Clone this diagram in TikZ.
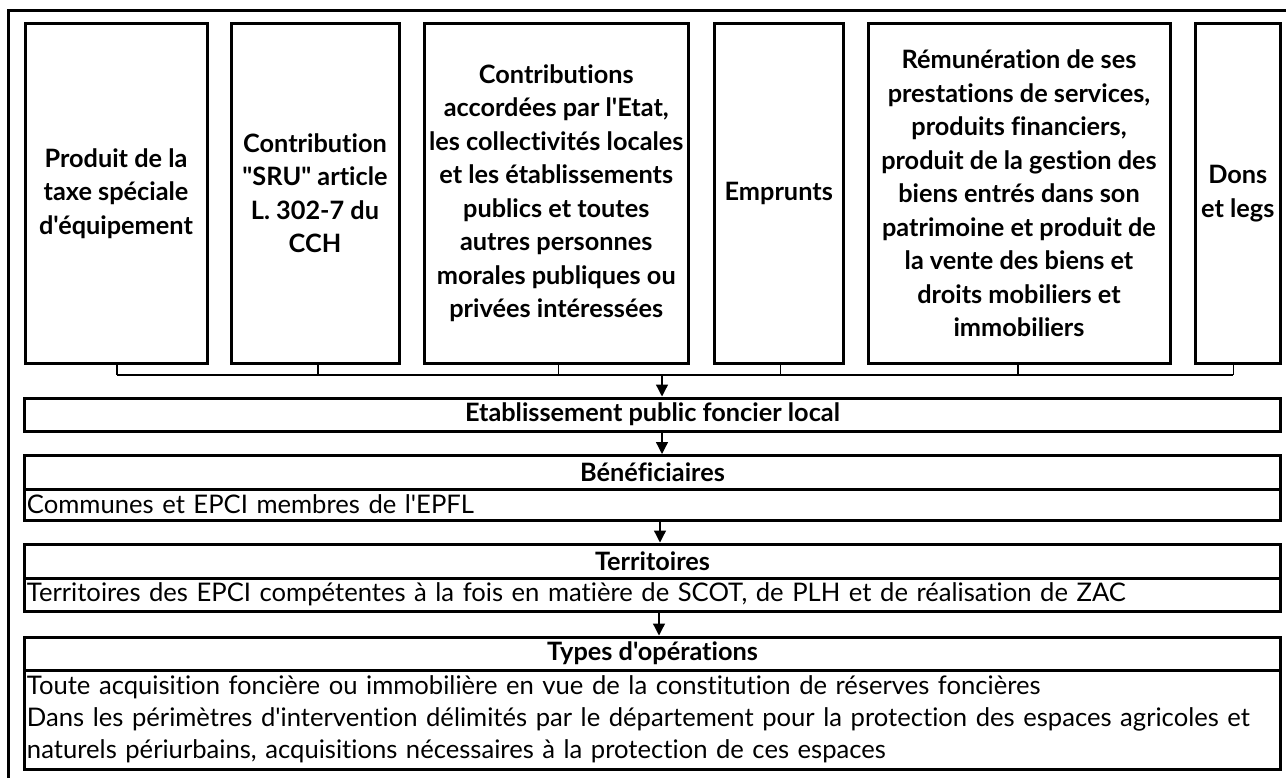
\documentclass[tikz,border=0pt]{standalone}
\usepackage{fontspec}
\setmainfont{Lato}[Ligatures={TeXOff,CommonOff}]
\usetikzlibrary{arrows.meta}
\newsavebox\measbox
\newdimen\accw
\newcommand\addw[2]{\sbox\measbox{\normalfont\fontsize{10}{12}\selectfont#1#2}\global\advance\accw by \wd\measbox}
\AtBeginDocument{%
  \global\accw=0pt
  \addw{\bfseries}{les collectivités locales}%
  \addw{\bfseries}{produit de la gestion des}%
  \addw{\bfseries}{accordées par l'Etat,}%
  \addw{\bfseries}{Rémunération de ses}%
  \addw{\bfseries}{d'équipement}%
  \addw{\bfseries}{Contribution}%
  \addw{\bfseries}{Emprunts}%
  \pgfmathsetmacro\topfsA{1395/\accw*10}%
  \global\let\topfs\topfsA
  \global\accw=0pt
  \addw{}{Toute acquisition foncière ou immobilière en vue de la constitution de réserves foncières}%
  \addw{}{Territoires des EPCI compétentes à la fois en matière de SCOT, de PLH et de réalisation de ZAC}%
  \addw{}{Dans les périmètres d'intervention délimités par le département pour la protection des espaces agricoles et}%
  \pgfmathsetmacro\bodyfsA{3250/\accw*10}%
  \global\let\bodyfs\bodyfsA
}
\begin{document}
\begin{tikzpicture}[x=1pt,y=-1pt]
\tikzset{
  frame/.style={line width=3pt},
  topbox/.style={draw, line width=3pt, align=center, font=\fontsize{\topfs}{33.5}\selectfont\bfseries, inner sep=0pt, minimum height=340.5},
  hdr/.style={draw, line width=3pt, minimum width=1256, align=center, font=\fontsize{\topfs}{33}\selectfont\bfseries, inner sep=0pt},
  body/.style={draw, line width=3pt, text width=1251, align=left, font=\fontsize{\bodyfs}{32}\selectfont, inner xsep=2.5pt, inner ysep=0pt},
  bus/.style={line width=1.3pt},
  arr/.style={line width=1.3pt, -{Triangle[length=12pt,width=12pt]}}}
\useasboundingbox (0,0) rectangle (1286,778);
\clip (0,0) rectangle (1286,778);
\draw[frame] (8.5,10.5) rectangle (1300,790);

% top boxes
\node[topbox, minimum width=182] (b1) at (116,193.4) {Produit de la\\taxe spéciale\\d'équipement};
\node[topbox, minimum width=168] (b2) at (315,193.4) {Contribution\\"SRU" article\\L. 302-7 du\\CCH};
\node[topbox, minimum width=263.5] (b3) at (556.25,193.4) {Contributions\\accordées par l'Etat,\\les collectivités locales\\et les établissements\\publics et toutes\\autres personnes\\morales publiques ou\\privées intéressées};
\node[topbox, minimum width=128.5] (b4) at (778.75,193.4) {Emprunts};
\node[topbox, minimum width=302] (b5) at (1019,193.4) {Rémunération de ses\\prestations de services,\\produits financiers,\\produit de la gestion des\\biens entrés dans son\\patrimoine et produit de\\la vente des biens et\\droits mobiliers et\\immobiliers};
\node[topbox, minimum width=84.5] (b6) at (1237.75,193.4) {Dons\\et legs};

% lower boxes
\node[hdr, minimum height=33] (epfl) at (652.5,414.5) {Etablissement public foncier local};
\node[hdr, minimum height=33.5] (benh) at (652.5,472.25) {Bénéficiaires};
\node[body, minimum height=31] (benb) at (652.5,504.5) {Communes et EPCI membres de l'EPFL};
\node[hdr, minimum height=34] (terh) at (652.5,561) {Territoires};
\node[body, minimum height=33.5] (terb) at (652.5,594.75) {Territoires des EPCI compétentes à la fois en matière de SCOT, de PLH et de réalisation de ZAC};
\node[hdr, minimum height=33] (typh) at (652.5,653.5) {Types d'opérations};
\node[body, minimum height=99.5] (typb) at (652.5,719.75) {Toute acquisition foncière ou immobilière en vue de la constitution de réserves foncières\\Dans les périmètres d'intervention délimités par le département pour la protection des espaces agricoles et\\naturels périurbains, acquisitions nécessaires à la protection de ces espaces};

% bus
\coordinate (bus) at (662,375);
\coordinate (t1) at ([xshift=1pt]b1.south);
\coordinate (t2) at ([xshift=3pt]b2.south);
\coordinate (t3) at ([xshift=2pt]b3.south);
\coordinate (t4) at ([xshift=2pt]b4.south);
\coordinate (t5) at ([xshift=-1pt]b5.south);
\coordinate (t6) at ([xshift=-4.5pt]b6.south);
\foreach \t in {t1,t2,t3,t4,t5,t6} \draw[bus] (\t) -- (\t |- bus);
\draw[bus] (t1 |- bus) -- (t6 |- bus);
\draw[arr] (bus) -- (bus |- epfl.north);
\draw[arr] (bus |- epfl.south) -- (bus |- benh.north);
\coordinate (a3) at (660,0);
\draw[arr] (a3 |- benb.south) -- (a3 |- terh.north);
\coordinate (a4) at (659,0);
\draw[arr] (a4 |- terb.south) -- (a4 |- typh.north);
\end{tikzpicture}
\end{document}
